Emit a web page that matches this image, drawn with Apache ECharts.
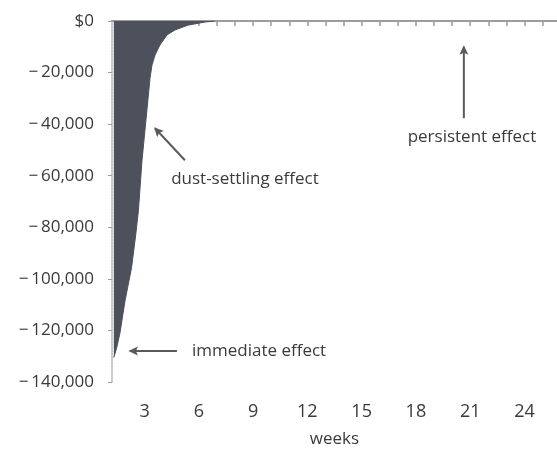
<!DOCTYPE html>
<html>
<head>
<meta charset="utf-8">
<script src="https://cdn.jsdelivr.net/npm/echarts@6/dist/echarts.min.js"></script>
<style>
  html, body { margin: 0; padding: 0; background: #ffffff; }
  #chart { width: 557px; height: 449px; }
</style>
</head>
<body>
<div id="chart"></div>
<script>
// ---- data ----
const weeks   = [1.3, 1.45, 1.64, 1.92, 2.28, 2.52, 2.66, 2.86, 3.13, 3.30, 3.41, 3.58, 3.85, 4.24, 4.68, 5.40, 6.34, 6.89];
const effect  = [-130500, -127000, -121000, -108500, -95700, -82400, -73500, -54000, -34600, -22200, -17100, -13200, -9300, -5400, -3500, -1600, -400, 0];
const xLabelWeeks = [3, 6, 9, 12, 15, 18, 21, 24];
const xTickWeeks  = [2, 3, 4, 5, 6, 7, 8, 9, 10, 11, 12, 13, 14, 15, 16, 17, 18, 19, 20, 21, 22, 23, 24, 25];

// annotations: text anchor (week, value), arrow tail, arrow head
const notes = [
  { text: 'persistent effect',    at: [21.1, -45000],  tail: [20.65, -37700], head: [20.65, -10000], align: 'center' },
  { text: 'dust-settling effect', at: [8.55, -61500],  tail: [5.23, -54000],  head: [3.58, -41600],  align: 'center' },
  { text: 'immediate effect',     at: [5.62, -128000], tail: [4.79, -128000], head: [2.19, -128000], align: 'left' }
];

const FONT = '"Open Sans", "Noto Sans", sans-serif';
const TXT = '#3a3a3a';
const AXIS = '#9c9c9c';

const chart = echarts.init(document.getElementById('chart'), null, { renderer: 'canvas' });

const fmtY = v => v === 0 ? '$0' : '\u2212\u2009' + Math.abs(v).toLocaleString('en-US');

chart.setOption({
  animation: false,
  backgroundColor: '#ffffff',
  grid: { left: 112, right: 0, top: 21, bottom: 67, containLabel: false, outerBoundsMode: 'none' },
  xAxis: [{
    type: 'value',
    min: 1.2, max: 25.8,
    name: 'weeks',
    nameLocation: 'middle',
    nameGap: 49,
    nameTextStyle: { fontFamily: FONT, fontSize: 17, color: TXT, verticalAlign: 'top' },
    axisLine: { show: true, lineStyle: { color: AXIS, width: 2, type: [3, 1] } },
    axisTick: { show: true, customValues: xTickWeeks, length: 5, lineStyle: { color: AXIS, width: 1.5 } },
    axisLabel: { customValues: xLabelWeeks, margin: 21, fontFamily: FONT, fontSize: 18, color: TXT },
    splitLine: { show: false }
  }, {
    type: 'value',
    position: 'top',
    min: 1.2, max: 25.8,
    axisLine: { show: true, lineStyle: { color: AXIS, width: 2, type: [3, 1] } },
    axisTick: { show: false },
    axisLabel: { show: false },
    splitLine: { show: false }
  }],
  yAxis: {
    type: 'value',
    min: -140000, max: 0, interval: 20000,
    axisLine: { show: true, onZero: false, lineStyle: { color: '#b5b5b5', width: 1.5, type: [2, 1] } },
    axisTick: { show: true, length: 4, lineStyle: { color: AXIS, width: 1 } },
    axisLabel: { margin: 18, fontFamily: FONT, fontSize: 17, color: TXT, formatter: fmtY },
    splitLine: { show: false }
  },
  series: [{
    type: 'line',
    xAxisIndex: 0,
    data: weeks.map((w, i) => [w, effect[i]]),
    symbol: 'none',
    smooth: false,
    lineStyle: { color: '#4d515b', width: 1 },
    areaStyle: { color: '#4d515b', opacity: 1, origin: 'end' },
    z: 1
  }]
});

function drawNotes() {
  const els = [];
  notes.forEach(n => {
    const t = chart.convertToPixel({ xAxisIndex: 0, yAxisIndex: 0 }, n.tail);
    const h = chart.convertToPixel({ xAxisIndex: 0, yAxisIndex: 0 }, n.head);
    const p = chart.convertToPixel({ xAxisIndex: 0, yAxisIndex: 0 }, n.at);
    els.push({
      type: 'line',
      shape: { x1: t[0], y1: t[1], x2: h[0], y2: h[1] },
      style: { stroke: '#5a5a5a', lineWidth: 2 },
      silent: true
    });
    const ang = Math.atan2(h[1] - t[1], h[0] - t[0]);
    const L = 8, W = 4.5;
    const bx = h[0] - L * Math.cos(ang), by = h[1] - L * Math.sin(ang);
    const px = -Math.sin(ang), py = Math.cos(ang);
    els.push({
      type: 'polygon',
      shape: { points: [[h[0] + 1.5 * Math.cos(ang), h[1] + 1.5 * Math.sin(ang)], [bx + W * px, by + W * py], [bx + 2 * Math.cos(ang), by + 2 * Math.sin(ang)], [bx - W * px, by - W * py]] },
      style: { fill: '#5a5a5a' },
      silent: true
    });
    els.push({
      type: 'text',
      x: p[0], y: p[1],
      style: { text: n.text, fontFamily: FONT, fontSize: 17, fill: TXT, align: n.align, verticalAlign: 'middle' },
      silent: true
    });
  });
  chart.setOption({ graphic: { elements: els } });
}
drawNotes();
</script>
</body>
</html>
